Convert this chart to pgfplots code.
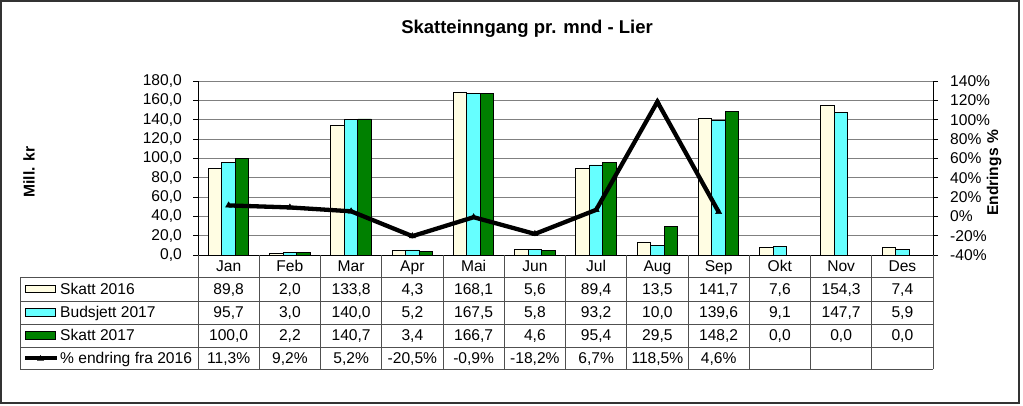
\documentclass[border=0pt]{standalone}
\usepackage{pgfplots}
\pgfplotsset{compat=1.18}
\usepackage{fontspec}
\setmainfont{Liberation Sans}
\definecolor{cream}{HTML}{FFFDE3}
\definecolor{cyanb}{HTML}{66FFFF}
\definecolor{greenb}{HTML}{008000}
\definecolor{gridc}{HTML}{808080}
\definecolor{tabc}{HTML}{505050}
\newcommand{\tf}{\fontsize{15.6}{18}\selectfont}
\begin{document}
\begin{tikzpicture}[x=1pt,y=1pt]
\path[use as bounding box] (0,0) rectangle (1023,405);
\draw[line width=2pt, black!80] (1,2) rectangle (1019,404);
\node[font=\bfseries\fontsize{18.5}{22}\selectfont] at (527,376) {Skatteinngang pr. mnd - Lier};
\node[font=\bfseries\tf, rotate=90] at (29,233) {Mill. kr};
\node[font=\bfseries\tf, rotate=90] at (994,232) {Endrings \%};

\begin{axis}[
  at={(198pt,150pt)}, anchor=south west,
  scale only axis, width=735pt, height=174pt,
  xmin=-0.5, xmax=11.5, ymin=0, ymax=180,
  axis x line*=bottom, axis y line*=left,
  axis line style={-, black, line width=1pt},
  xtick=\empty,
  ytick={0,20,40,60,80,100,120,140,160,180},
  yticklabels={{0,0},{20,0},{40,0},{60,0},{80,0},{100,0},{120,0},{140,0},{160,0},{180,0}},
  yticklabel style={font=\tf, anchor=east, inner sep=0pt, xshift=-11pt},
  ymajorgrids, grid style={gridc, line width=0.9pt},
  tick align=outside, major tick length=5pt,
  tick style={black, line width=0.9pt},
  ybar=0pt, bar width=13.5pt,
  clip=false,
]
\addplot[draw=black, line width=0.8pt, fill=cream] coordinates {
(0,89.8)(1,2.0)(2,133.8)(3,4.3)(4,168.1)(5,5.6)(6,89.4)(7,13.5)(8,141.7)(9,7.6)(10,154.3)(11,7.4)};
\addplot[draw=black, line width=0.8pt, fill=cyanb] coordinates {
(0,95.7)(1,3.0)(2,140.0)(3,5.2)(4,167.5)(5,5.8)(6,93.2)(7,10.0)(8,139.6)(9,9.1)(10,147.7)(11,5.9)};
\addplot[draw=black, line width=0.8pt, fill=greenb] coordinates {
(0,100.0)(1,2.2)(2,140.7)(3,3.4)(4,166.7)(5,4.6)(6,95.4)(7,29.5)(8,148.2)};
\end{axis}

\begin{axis}[
  at={(198pt,150pt)}, anchor=south west,
  scale only axis, width=735pt, height=174pt,
  xmin=-0.5, xmax=11.5, ymin=-40, ymax=140,
  axis x line=none, axis y line*=right,
  axis line style={-, black, line width=1pt},
  ytick={-40,-20,0,20,40,60,80,100,120,140},
  yticklabels={-40\%,-20\%,0\%,20\%,40\%,60\%,80\%,100\%,120\%,140\%},
  yticklabel style={font=\tf, anchor=west, inner sep=0pt, xshift=12pt},
  tick align=outside, major tick length=5pt,
  tick style={black, line width=0.9pt},
  clip=false,
]
\addplot[black, line width=4.3pt, line join=miter, mark=triangle*, mark size=3.5pt, mark options={line width=0.5pt}] coordinates {
(0,11.3)(1,9.2)(2,5.2)(3,-20.5)(4,-0.9)(5,-18.2)(6,6.7)(7,118.5)(8,4.6)};
\end{axis}

% data table
\begin{scope}[tabc, line width=1pt]
\foreach \yy in {128,104,81,58,36} \draw (20,\yy) -- (933,\yy);
\draw (20,128) -- (20,36);
\foreach \i in {0,...,12} \draw (198+\i*61.25,150) -- (198+\i*61.25,36);
\end{scope}
\foreach \m [count=\i from 0] in {Jan,Feb,Mar,Apr,Mai,Jun,Jul,Aug,Sep,Okt,Nov,Des}
  \node[font=\tf, anchor=base, inner sep=0pt] at (228.625+\i*61.25,133.7) {\m};
\foreach \v [count=\i from 0] in {{89,8},{2,0},{133,8},{4,3},{168,1},{5,6},{89,4},{13,5},{141,7},{7,6},{154,3},{7,4}}
  \node[font=\tf, anchor=base, inner sep=0pt] at (228.625+\i*61.25,110.7) {\v};
\foreach \v [count=\i from 0] in {{95,7},{3,0},{140,0},{5,2},{167,5},{5,8},{93,2},{10,0},{139,6},{9,1},{147,7},{5,9}}
  \node[font=\tf, anchor=base, inner sep=0pt] at (228.625+\i*61.25,87.2) {\v};
\foreach \v [count=\i from 0] in {{100,0},{2,2},{140,7},{3,4},{166,7},{4,6},{95,4},{29,5},{148,2},{0,0},{0,0},{0,0}}
  \node[font=\tf, anchor=base, inner sep=0pt] at (228.625+\i*61.25,64.2) {\v};
\foreach \v [count=\i from 0] in {{11,3\%},{9,2\%},{5,2\%},{-20,5\%},{-0,9\%},{-18,2\%},{6,7\%},{118,5\%},{4,6\%}}
  \node[font=\tf, anchor=base, inner sep=0pt] at (228.625+\i*61.25,41.7) {\v};
% legend keys
\draw[fill=cream, line width=0.8pt] (25.5,112.6) rectangle (55.7,119.8);
\draw[fill=cyanb, line width=0.8pt] (25.5,89.1) rectangle (55.7,96.3);
\draw[fill=greenb, line width=0.8pt] (25.5,66.1) rectangle (55.7,73.3);
\draw[line width=4pt] (25,46.9) -- (57,46.9);
\fill (40.5,50) -- (37,44.5) -- (44,44.5) -- cycle;
\node[font=\tf, anchor=base west, inner sep=0pt] at (60,110.7) {Skatt 2016};
\node[font=\tf, anchor=base west, inner sep=0pt] at (60,87.2) {Budsjett 2017};
\node[font=\tf, anchor=base west, inner sep=0pt] at (60,64.2) {Skatt 2017};
\node[font=\tf, anchor=base west, inner sep=0pt] at (60,41.7) {\% endring fra 2016};
\end{tikzpicture}
\end{document}
